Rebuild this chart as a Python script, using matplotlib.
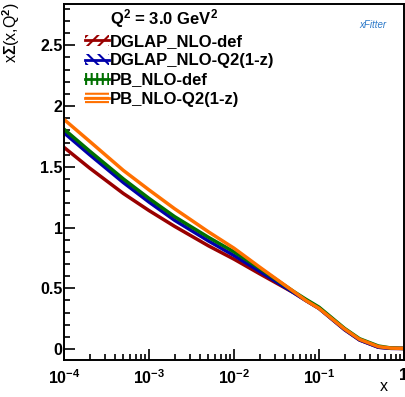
import math

import matplotlib
matplotlib.use("Agg")
import matplotlib.pyplot as plt
from matplotlib.patches import Patch
from matplotlib.lines import Line2D
from matplotlib.ticker import FixedLocator, MultipleLocator, FuncFormatter, LogLocator

# values
x = [1e-4, 2e-4, 5e-4, 1e-3, 2e-3, 5e-3, 1e-2, 2e-2, 5e-2, 0.07, 0.1, 0.2, 0.3, 0.5, 0.7, 1.0]
dglap_def = [1.66, 1.49, 1.28, 1.14, 1.01, 0.85, 0.74, 0.62, 0.465, 0.40, 0.335, 0.16, 0.075, 0.015, 0.006, 0.005]
dglap_q2 = [1.78, 1.60, 1.37, 1.21, 1.06, 0.89, 0.77, 0.64, 0.465, 0.40, 0.335, 0.16, 0.075, 0.015, 0.006, 0.005]
pb_def = [1.81, 1.63, 1.40, 1.24, 1.09, 0.92, 0.80, 0.665, 0.475, 0.41, 0.345, 0.17, 0.085, 0.025, 0.009, 0.005]
pb_q2 = [1.89, 1.71, 1.47, 1.31, 1.155, 0.965, 0.83, 0.675, 0.475, 0.40, 0.335, 0.165, 0.08, 0.02, 0.008, 0.005]

labels = ["DGLAP_NLO-def", "DGLAP_NLO-Q2(1-z)", "PB_NLO-def", "PB_NLO-Q2(1-z)"]
colors = ["#990000", "#0000aa", "#007000", "#ff7000"]
hatches = ["///", "\\\\\\", "|||", "----"]
series = [dglap_def, dglap_q2, pb_def, pb_q2]

plt.rcParams["font.family"] = ["Liberation Sans", "DejaVu Sans"]
plt.rcParams["font.weight"] = "bold"
plt.rcParams["mathtext.fontset"] = "custom"
plt.rcParams["mathtext.rm"] = "Liberation Sans:bold"
plt.rcParams["mathtext.it"] = "Liberation Sans:bold"
plt.rcParams["mathtext.bf"] = "Liberation Sans:bold"
plt.rcParams["mathtext.default"] = "rm"
plt.rcParams["hatch.linewidth"] = 1.5

fig = plt.figure(figsize=(4.06, 3.97), dpi=100)
ax = fig.add_axes([64 / 406, 37 / 397, 340 / 406, 356 / 397])

for ys, c in zip(series, colors):
    ax.plot(x, ys, color=c, lw=2.5)

ax.set_xscale("log")
ax.set_xlim(1e-4, 1.0)
ax.set_ylim(-0.09, 2.84)


def xfmt(v, pos):
    e = round(math.log10(v))
    return "1" if e == 0 else r"$10^{%d}$" % e


ax.xaxis.set_major_locator(FixedLocator([1e-4, 1e-3, 1e-2, 1e-1, 1.0]))
ax.xaxis.set_minor_locator(LogLocator(base=10, subs=range(2, 10), numticks=20))
ax.xaxis.set_major_formatter(FuncFormatter(xfmt))
ax.yaxis.set_major_locator(MultipleLocator(0.5))
ax.yaxis.set_minor_locator(MultipleLocator(0.1))
ax.yaxis.set_major_formatter(FuncFormatter(lambda v, p: "%g" % round(v, 2)))

ax.tick_params(which="both", direction="in", top=False, right=False, width=1.2, labelsize=11.5)
ax.tick_params(which="major", length=8)
ax.tick_params(which="minor", length=4.5)
ax.tick_params(axis="x", pad=6)
ax.tick_params(axis="y", pad=1)
for s in ax.spines.values():
    s.set_linewidth(1.4)

ax.set_ylabel(r"x$\Sigma$(x,Q$^{2}$)", fontsize=11.5, loc="top")
ax.yaxis.set_label_coords(-0.124, 1.006)
ax.set_xlabel("x", fontsize=11.5, ha="center")
ax.xaxis.set_label_coords(0.94, -0.053)

ax.text(0.135, 0.958, "Q$^{2}$ = 3.0 GeV$^{2}$", transform=ax.transAxes,
        fontsize=12, va="center", ha="left")

handles = []
for c, h in zip(colors, hatches):
    handles.append((Patch(facecolor="none", edgecolor=c, hatch=h, lw=0),
                    Line2D([], [], color=c, lw=2)))
ax.legend(handles, labels, loc="upper left", bbox_to_anchor=(0.026, 0.948),
          frameon=False, fontsize=12, handlelength=1.45, handleheight=0.7,
          handletextpad=0.1, labelspacing=0.25, borderpad=0.2)

ax.text(0.909, 0.941, "xFitter", transform=ax.transAxes, fontsize=7,
        style="italic", color="#2a78c8", ha="center", va="center", weight="normal")

fig.savefig("out.png", dpi=100)
